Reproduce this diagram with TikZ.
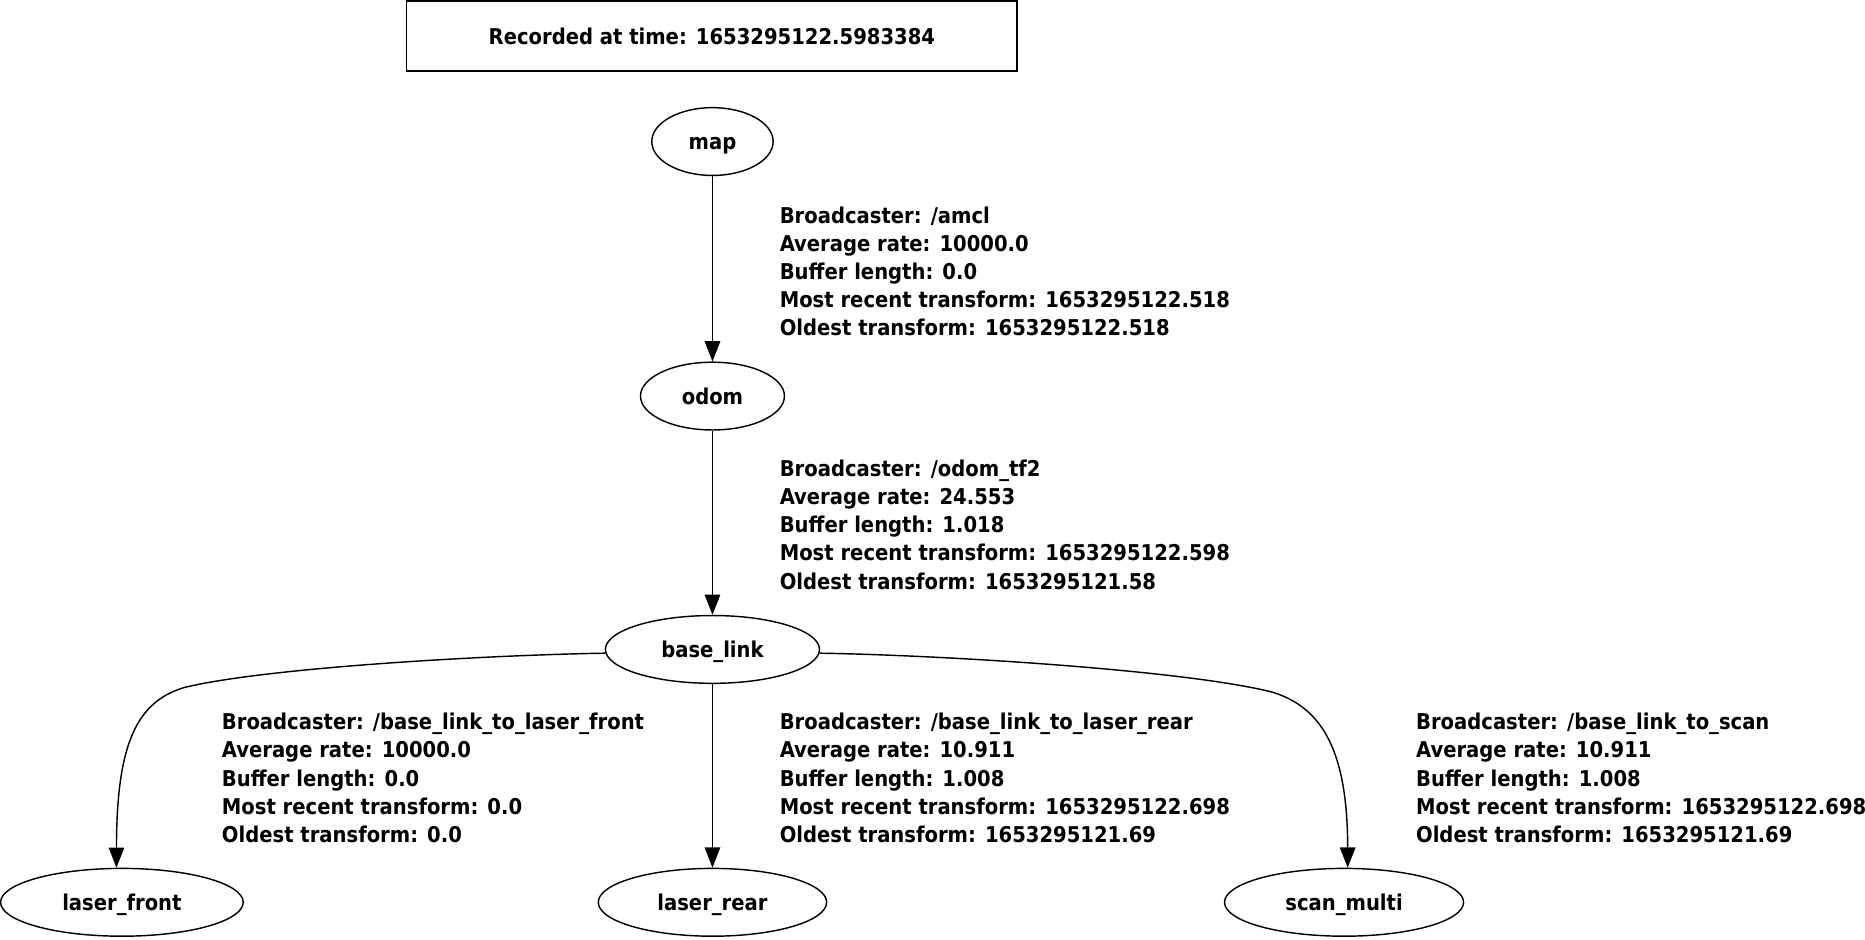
\documentclass[tikz,border=0pt]{standalone}
\usepackage{fontspec}
\setmainfont{DejaVu Sans Condensed Bold}
\usepackage{tikz}
\usetikzlibrary{arrows.meta, positioning, shapes.geometric}

\begin{document}
\begin{tikzpicture}[x=1pt, y=-1pt, line width=1.2pt,
		frame/.style={draw, rectangle, minimum width=513pt, minimum height=59pt, inner sep=0pt, font=\fontsize{18.3}{22}\selectfont},
		tfnode/.style={draw, ellipse, minimum height=57pt, inner sep=0pt, text height=14pt, text depth=0pt, font=\fontsize{18.3}{22}\selectfont},
		info/.style={anchor=north west, align=left, inner sep=0pt, font=\fontsize{18.3}{23.7}\selectfont},
		link/.style={-{Triangle[length=17pt, width=13pt]}}]
				\useasboundingbox (0,0) rectangle (1568,790);
				
				% Time stamp
				\node[frame] (stamp) at (598.5,30.25) {Recorded at time: 1653295122.5983384};
				
				% Frames
				\node[tfnode, minimum width=102pt] (map) at (599,119) {map};
				\node[tfnode, minimum width=121pt] (odom) at (599,333) {odom};
				\node[tfnode, minimum width=180pt] (base) at (599,546) {base\_link};
				\node[tfnode, minimum width=204pt] (front) at (102.5,758.6) {laser\_front};
				\node[tfnode, minimum width=192pt] (rear) at (599,758.6) {laser\_rear};
				\node[tfnode, minimum width=201pt] (scan) at (1130,758.6) {scan\_multi};
				
				% Transforms
				\draw[link] (map) -- (odom);
				\draw[link] (odom) -- (base);
				\draw[link] (base) -- (rear);
				\draw[link] (base.182) .. controls (400,551) and (220,562) .. (155,578)
					.. controls (115,590) and (98,625) .. (front.99);
				\draw[link] (base.-2) .. controls (800,551) and (1000,564) .. (1070,582)
					.. controls (1112,595) and (1133,632) .. (scan.84);
				
				% Broadcaster info
				\node[info] (amcl) at (655,173) {Broadcaster: /amcl\\Average rate: 10000.0\\Buffer length: 0.0\\Most recent transform: 1653295122.518\\Oldest transform: 1653295122.518};
				\node[info] (odomtf) at (655,386) {Broadcaster: /odom\_tf2\\Average rate: 24.553\\Buffer length: 1.018\\Most recent transform: 1653295122.598\\Oldest transform: 1653295121.58};
				\node[info] (tofront) at (186,599) {Broadcaster: /base\_link\_to\_laser\_front\\Average rate: 10000.0\\Buffer length: 0.0\\Most recent transform: 0.0\\Oldest transform: 0.0};
				\node[info] (torear) at (655,599) {Broadcaster: /base\_link\_to\_laser\_rear\\Average rate: 10.911\\Buffer length: 1.008\\Most recent transform: 1653295122.698\\Oldest transform: 1653295121.69};
				\node[info] (toscan) at (1190,599) {Broadcaster: /base\_link\_to\_scan\\Average rate: 10.911\\Buffer length: 1.008\\Most recent transform: 1653295122.698\\Oldest transform: 1653295121.69};
			\end{tikzpicture}
\end{document}
